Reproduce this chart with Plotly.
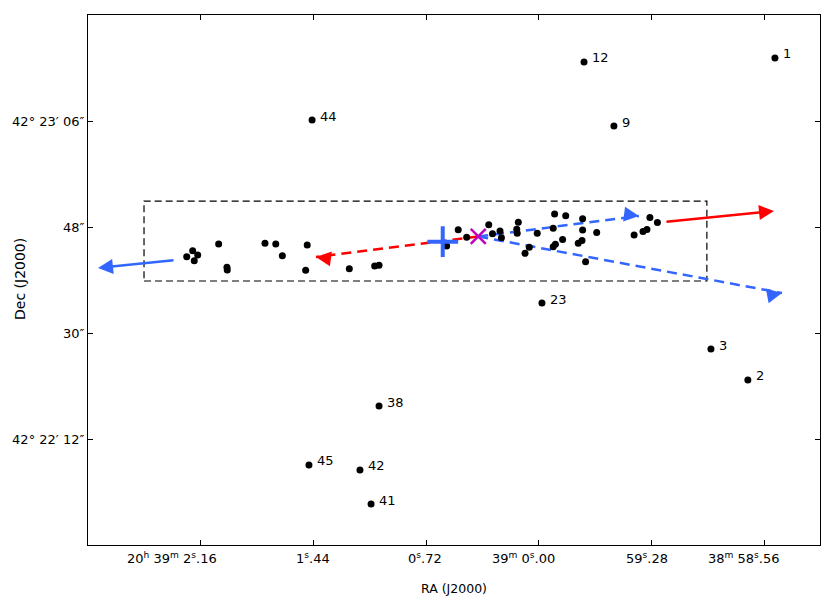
import plotly.graph_objects as go

# RA offset in seconds of time from 20h39m00s (axis reversed), Dec in arcsec from 42d22m00s
cluster_ra = [2.251, 2.213, 2.181, 2.203, 2.047, 1.994, 1.992, 1.751, 1.682, 1.640,
              1.481, 1.491, 1.212, 1.050, 1.022, 0.590, 0.516, 0.462, 0.321, 0.297,
              0.249, 0.240, 0.132, 0.142, 0.139, 0.062, 0.089, 0.011, -0.100, -0.091,
              -0.171, -0.151, -0.105, -0.091, -0.279, -0.279, -0.275, -0.251, -0.298, -0.369,
              -0.608, -0.665, -0.690, -0.709, -0.757]
cluster_dec = [42.96, 43.98, 43.25, 42.28, 45.11, 41.16, 40.70, 45.23, 45.11, 43.13,
               44.94, 40.65, 40.92, 41.38, 41.50, 44.77, 47.52, 46.25, 48.39, 46.85,
               47.32, 46.18, 48.80, 47.61, 46.93, 44.55, 43.53, 46.93, 50.21, 47.78,
               49.92, 45.86, 45.06, 44.65, 49.41, 47.49, 45.71, 45.23, 42.11, 47.07,
               46.64, 47.24, 47.58, 49.61, 48.76]

star_labels = ["1", "12", "44", "9", "23", "3", "2", "38", "45", "42", "41"]
star_ra = [-1.508, -0.288, 1.450, -0.479, -0.019, -1.099, -1.335, 1.022, 1.470, 1.144, 1.073]
star_dec = [76.70, 76.02, 66.17, 65.15, 35.09, 27.28, 22.02, 17.60, 7.59, 6.74, 0.96]

plus_ra, plus_dec = [0.615], [45.50]
cross_ra, cross_dec = [0.388], [46.39]

box_ra = [2.524, -1.073]
box_dec = [38.83, 52.41]

# arrows: tail -> head
solid_arrows = [  # (tail_ra, tail_dec, head_ra, head_dec, color)
    (2.326, 42.40, 2.818, 41.04, "#3366ff"),
    (-0.805, 48.85, -1.502, 50.72, "#ff0000"),
]
dashed_arrows = [
    (0.388, 46.39, 1.425, 42.91, "#ff0000"),
    (0.388, 46.39, -0.639, 49.87, "#3366ff"),
    (0.388, 46.39, -1.553, 36.79, "#3366ff"),
]

xtick_vals = [2.16, 1.44, 0.72, 0.0, -0.72, -1.44]
xtick_text = ["20<sup>h</sup> 39<sup>m</sup> 2<sup>s</sup>.16", "1<sup>s</sup>.44", "0<sup>s</sup>.72",
              "39<sup>m</sup> 0<sup>s</sup>.00", "59<sup>s</sup>.28", "38<sup>m</sup> 58<sup>s</sup>.56"]
ytick_vals = [66, 48, 30, 12]
ytick_text = ["42° 23′ 06″", "48″", "30″", "42° 22′ 12″"]
x_title = "RA (J2000)"
y_title = "Dec (J2000)"

X_RANGE = [2.882, -1.796]
Y_RANGE = [-6.0, 84.0]

fig = go.Figure()

fig.add_shape(type="rect", x0=box_ra[0], x1=box_ra[1], y0=box_dec[0], y1=box_dec[1],
              line=dict(color="black", width=1.2, dash="7px,4px"), layer="below")

for (tx, ty, hx, hy, col) in dashed_arrows:
    fig.add_trace(go.Scatter(x=[tx, hx], y=[ty, hy], mode="lines",
                             line=dict(color=col, width=2.5, dash="10px,6px"),
                             hoverinfo="skip", showlegend=False))

fig.add_trace(go.Scatter(x=cluster_ra, y=cluster_dec, mode="markers",
                         marker=dict(color="black", size=7), showlegend=False))
fig.add_trace(go.Scatter(x=star_ra, y=star_dec, mode="markers",
                         marker=dict(color="black", size=7), showlegend=False))

fig.add_trace(go.Scatter(x=plus_ra, y=plus_dec, mode="markers",
                         marker=dict(symbol="cross-thin", size=22, line=dict(color="#3366ff", width=4)),
                         showlegend=False))
fig.add_trace(go.Scatter(x=cross_ra, y=cross_dec, mode="markers",
                         marker=dict(symbol="x-thin", size=15, line=dict(color="#bf00bf", width=2.5)),
                         showlegend=False))

annotations = []
for (tx, ty, hx, hy, col) in solid_arrows:
    annotations.append(dict(x=hx, y=hy, ax=tx, ay=ty, xref="x", yref="y", axref="x", ayref="y",
                            showarrow=True, arrowhead=2, arrowsize=1.2, arrowwidth=2.5,
                            arrowcolor=col, text="", standoff=0))
# arrowheads for the dashed arrows: short solid segment at the head, same direction
for (tx, ty, hx, hy, col) in dashed_arrows:
    px_per_ra = 732 / (X_RANGE[0] - X_RANGE[1])
    px_per_dec = 530 / (Y_RANGE[1] - Y_RANGE[0])
    dxp = -(hx - tx) * px_per_ra
    dyp = -(hy - ty) * px_per_dec
    n = (dxp ** 2 + dyp ** 2) ** 0.5
    annotations.append(dict(x=hx, y=hy, ax=-dxp / n * 14, ay=dyp / n * 14,
                            xref="x", yref="y", showarrow=True, arrowhead=2, arrowsize=1.2,
                            arrowwidth=2.5, arrowcolor=col, text="", standoff=0))

for lab, x, y in zip(star_labels, star_ra, star_dec):
    annotations.append(dict(x=x, y=y, text=lab, showarrow=False, xanchor="left", yanchor="middle",
                            xshift=6, yshift=4, font=dict(size=13, color="black",
                                                          family="DejaVu Sans")))

# x tick labels: seconds part centred on the tick, prefix extends to the left
for v, t in zip(xtick_vals, xtick_text):
    annotations.append(dict(x=v, y=0, xref="x", yref="paper", text=t, showarrow=False,
                            xanchor="right", yanchor="middle", xshift=18, yshift=-13,
                            font=dict(size=13, color="black", family="DejaVu Sans")))

annotations.append(dict(x=0.5, y=0, xref="paper", yref="paper", text=x_title, showarrow=False,
                        xanchor="center", yanchor="middle", yshift=-43,
                        font=dict(size=12.5, color="black", family="DejaVu Sans")))
annotations.append(dict(x=0, y=0.5, xref="paper", yref="paper", text=y_title, showarrow=False,
                        xanchor="center", yanchor="middle", xshift=-68, yshift=1, textangle=-90,
                        font=dict(size=14, color="black", family="DejaVu Sans")))

fig.update_layout(
    width=830, height=599,
    margin=dict(l=88, r=10, t=15, b=54),
    plot_bgcolor="white", paper_bgcolor="white",
    font=dict(family="DejaVu Sans", size=13, color="black"),
    annotations=annotations,
    showlegend=False,
)
fig.update_xaxes(range=X_RANGE, tickvals=xtick_vals, showticklabels=False, automargin=False,
                 ticks="inside", ticklen=5, tickcolor="black", showline=True, linecolor="black",
                 linewidth=1.2, mirror="ticks", showgrid=False, zeroline=False)
fig.update_yaxes(range=Y_RANGE, tickvals=ytick_vals, ticktext=ytick_text, automargin=False,
                 ticks="inside", ticklen=5, tickcolor="black", showline=True, linecolor="black",
                 linewidth=1.2, mirror="ticks", showgrid=False, zeroline=False,
                 tickfont=dict(size=13))

fig.write_html("out.html", config={"displayModeBar": False})

# remove the default page margin so the figure sits at the window's top-left corner
with open("out.html", "r", encoding="utf-8") as fh:
    page = fh.read()
page = page.replace("<head>", "<head><style>html,body{margin:0;padding:0;overflow:hidden;}</style>", 1)
with open("out.html", "w", encoding="utf-8") as fh:
    fh.write(page)
